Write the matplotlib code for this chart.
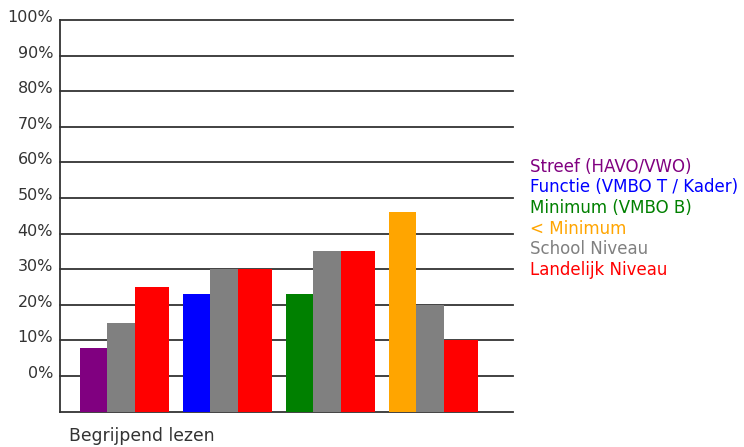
import matplotlib
matplotlib.use("Agg")
import matplotlib.pyplot as plt
from matplotlib.transforms import ScaledTranslation

# values (percent, on the chart's own label scale)
groups = ["Streef (HAVO/VWO)", "Functie (VMBO T / Kader)", "Minimum (VMBO B)", "< Minimum"]
group_colors = ["#800080", "#0000ff", "#008000", "#ffa500"]
niveau_values = [8, 23, 23, 46]
school_values = [15, 30, 35, 20]
landelijk_values = [25, 30, 35, 10]

legend_labels = groups + ["School Niveau", "Landelijk Niveau"]
legend_colors = group_colors + ["#808080", "#ff0000"]
tick_values = list(range(0, 101, 10))
tick_labels = ["%d%%" % t for t in tick_values]
xlabel = "Begrijpend lezen"

plt.rcParams['font.family'] = ['DejaVu Sans']

fig = plt.figure(figsize=(7.44, 4.47), dpi=100)
ax = fig.add_axes([60/744, (447-411.7)/447, (513-60)/744, (411.7-20)/447])

base = -10  # bars start one gridline below the 0% label
w = 0.265
w_red = 0.333
start = 0.194
for i in range(len(groups)):
    x0 = start + i
    ax.bar(x0, niveau_values[i] - base, bottom=base, width=w, align='edge',
           color=group_colors[i], zorder=3)
    ax.bar(x0 + w, school_values[i] - base, bottom=base, width=w, align='edge',
           color="#808080", zorder=3)
    ax.bar(x0 + 2*w, landelijk_values[i] - base, bottom=base, width=w_red, align='edge',
           color="#ff0000", zorder=3)

ax.set_xlim(0, 453/103)
ax.set_ylim(base, 100)
for t in [base] + tick_values:
    ax.axhline(t, color="#333333", lw=1.3, zorder=1, clip_on=False)

ax.set_yticks(tick_values)
ax.set_yticklabels(tick_labels, fontsize=11.5, color="#333333")
ax.tick_params(axis='y', length=0, pad=5)
shift = ScaledTranslation(0, 4/100, fig.dpi_scale_trans)
for lab in ax.get_yticklabels():
    lab.set_transform(lab.get_transform() + shift)
ax.set_xticks([])
for s in ['top', 'right', 'bottom']:
    ax.spines[s].set_visible(False)
ax.spines['left'].set_color("#333333")
ax.spines['left'].set_linewidth(1.3)

for k, (lab, col) in enumerate(zip(legend_labels, legend_colors)):
    fig.text(530/744, 1 - (166.7 + k*20.7)/447, lab, color=col,
             fontsize=12, va='center', ha='left')

fig.text(69/744, 1 - 436/447, xlabel, fontsize=12.4, color="#333333",
         va='center', ha='left')

fig.savefig("out.png", dpi=100)
